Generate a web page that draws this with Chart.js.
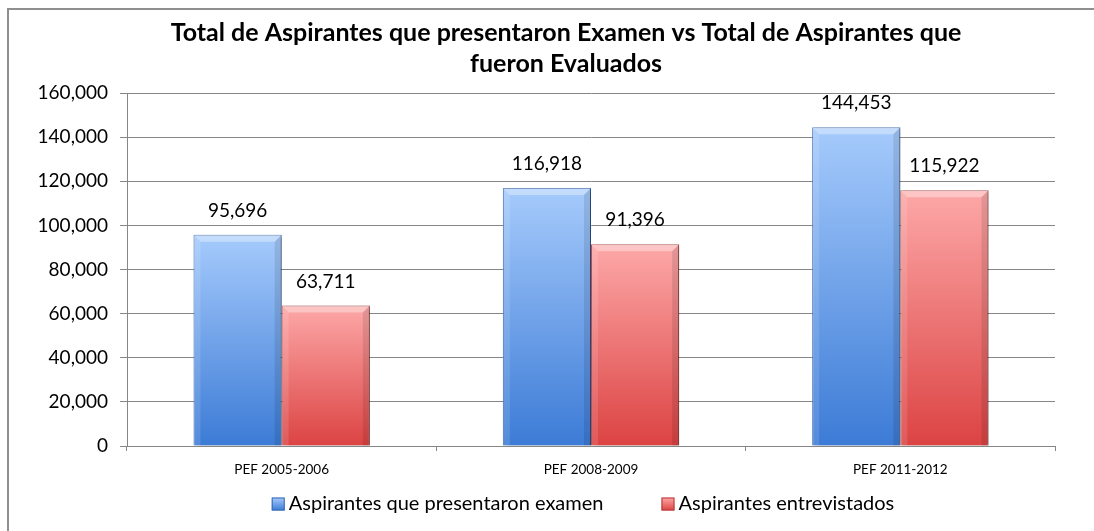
<!DOCTYPE html>
<html lang="es">
<head>
<meta charset="UTF-8">
<title>Total de Aspirantes</title>
<script src="https://cdn.jsdelivr.net/npm/chart.js"></script>
<style>
  body { margin: 0; background: #fff; }
  .wrap { width: 1094px; height: 531px; }
</style>
</head>
<body>
<div class="wrap">
  <canvas id="aspChart" width="1094" height="531"></canvas>
</div>
<script>
// datos
const categories = ['PEF 2005-2006', 'PEF 2008-2009', 'PEF 2011-2012'];
const presentaron = [95696, 116918, 144453];
const entrevistados = [63711, 91396, 115922];
const seriesNames = ['Aspirantes que presentaron examen', 'Aspirantes entrevistados'];
const yMax = 160000;
const yStep = 20000;

const FONT = 'Lato, "Open Sans", sans-serif';
const fmt = v => v.toLocaleString('en-US');

// top / bottom gradient colours per series
const shades = [
  { top: '#a6cbfc', bottom: '#3c7bd6', edge: '#3769b4' },
  { top: '#fda8a8', bottom: '#dc4343', edge: '#b53a3a' }
];

function barGradient(i) {
  return function (c) {
    const chart = c.chart;
    const y = chart.scales && chart.scales.y;
    if (!chart.chartArea || !y || c.raw == null) return shades[i].bottom;
    const top = y.getPixelForValue(c.raw);
    const bot = y.getPixelForValue(0);
    const g = chart.ctx.createLinearGradient(0, top, 0, bot);
    g.addColorStop(0, shades[i].top);
    g.addColorStop(1, shades[i].bottom);
    return g;
  };
}

const frame = {
  id: 'frame',
  beforeDraw(chart) {
    const ctx = chart.ctx;
    ctx.save();
    ctx.fillStyle = '#fff';
    ctx.fillRect(0, 0, chart.width, chart.height);
    ctx.strokeStyle = '#8f8f8f';
    ctx.lineWidth = 2;
    ctx.beginPath();
    ctx.moveTo(8, chart.height);
    ctx.lineTo(8, 9);
    ctx.lineTo(chart.width, 9);
    ctx.stroke();
    ctx.restore();
  }
};

const barLook = {
  id: 'barLook',
  beforeDatasetsDraw(chart) {
    const ctx = chart.ctx;
    ctx.save();
    ctx.shadowColor = 'rgba(0,0,0,0.35)';
    ctx.shadowBlur = 4;
    ctx.shadowOffsetX = 2;
    ctx.shadowOffsetY = 1;
  },
  afterDatasetsDraw(chart) {
    const ctx = chart.ctx;
    ctx.restore();
    const b = 7;
    ctx.save();
    chart.data.datasets.forEach((ds, di) => {
      chart.getDatasetMeta(di).data.forEach((el, i) => {
        const l = el.x - el.width / 2, r = el.x + el.width / 2;
        const t = el.y, bot = el.base;
        ctx.fillStyle = 'rgba(255,255,255,0.35)';
        ctx.beginPath();
        ctx.moveTo(l, t); ctx.lineTo(r, t); ctx.lineTo(r - b, t + b); ctx.lineTo(l + b, t + b);
        ctx.closePath(); ctx.fill();
        ctx.fillStyle = 'rgba(255,255,255,0.12)';
        ctx.beginPath();
        ctx.moveTo(l, t); ctx.lineTo(l + b, t + b); ctx.lineTo(l + b, bot); ctx.lineTo(l, bot);
        ctx.closePath(); ctx.fill();
        ctx.fillStyle = 'rgba(0,0,0,0.10)';
        ctx.beginPath();
        ctx.moveTo(r, t); ctx.lineTo(r - b, t + b); ctx.lineTo(r - b, bot); ctx.lineTo(r, bot);
        ctx.closePath(); ctx.fill();
        // value label
        ctx.fillStyle = '#000';
        ctx.font = '19px ' + FONT;
        ctx.textAlign = 'center';
        ctx.textBaseline = 'middle';
        ctx.fillText(fmt(ds.data[i]), el.x, t - 24);
      });
    });
    ctx.restore();
  }
};

const keyLegend = {
  id: 'keyLegend',
  afterDraw(chart) {
    const ctx = chart.ctx;
    ctx.save();
    ctx.font = '20px ' + FONT;
    ctx.textBaseline = 'middle';
    const box = 13, gapText = 4, gapItem = 58;
    const widths = chart.data.datasets.map(ds => box + gapText + ctx.measureText(ds.label).width);
    const total = widths.reduce((a, w) => a + w, 0) + gapItem * (widths.length - 1);
    let x = 583 - total / 2;
    const yc = 504;
    chart.data.datasets.forEach((ds, i) => {
      const g = ctx.createLinearGradient(0, yc - box / 2, 0, yc + box / 2);
      g.addColorStop(0, shades[i].top);
      g.addColorStop(1, shades[i].bottom);
      ctx.fillStyle = g;
      ctx.fillRect(x, yc - box / 2, box, box);
      ctx.strokeStyle = shades[i].edge;
      ctx.lineWidth = 1;
      ctx.strokeRect(x + 0.5, yc - box / 2 + 0.5, box - 1, box - 1);
      ctx.fillStyle = '#000';
      ctx.textAlign = 'left';
      ctx.fillText(ds.label, x + box + gapText, yc);
      x += widths[i] + gapItem;
    });
    ctx.restore();
  }
};

new Chart(document.getElementById('aspChart').getContext('2d'), {
  type: 'bar',
  data: {
    labels: categories,
    datasets: [
      { label: seriesNames[0], data: presentaron, backgroundColor: barGradient(0),
        borderColor: shades[0].edge, borderWidth: 1, categoryPercentage: 0.57, barPercentage: 1 },
      { label: seriesNames[1], data: entrevistados, backgroundColor: barGradient(1),
        borderColor: shades[1].edge, borderWidth: 1, categoryPercentage: 0.57, barPercentage: 1 }
    ]
  },
  options: {
    responsive: false,
    animation: false,
    layout: { padding: { left: 38, right: 0, top: 0, bottom: 45 } },
    plugins: {
      legend: { display: false },
      tooltip: { enabled: false },
      title: {
        display: true,
        text: ['Total de Aspirantes que presentaron Examen vs Total de Aspirantes que', 'fueron Evaluados'],
        color: '#000',
        font: { family: FONT, size: 25, weight: 'bold', lineHeight: 1.24 },
        padding: { top: 17.5, bottom: 13.5 }
      }
    },
    scales: {
      x: {
        grid: { display: true, drawOnChartArea: false, drawTicks: true, tickLength: 5, color: '#868686' },
        border: { display: true, color: '#868686' },
        ticks: { color: '#000', padding: 11, font: { family: FONT, size: 13.5 } },
        afterFit(a) { a.height = 40; }
      },
      y: {
        min: 0,
        max: yMax,
        grid: { color: '#868686', tickLength: 7 },
        border: { display: true, color: '#868686' },
        ticks: { stepSize: yStep, color: '#000', padding: 12, font: { family: FONT, size: 19 },
                 callback: v => fmt(v) },
        afterFit(a) { a.width = 89; }
      },
      yPad: {
        position: 'right',
        display: true,
        grid: { display: false },
        border: { display: false },
        ticks: { display: false },
        afterFit(a) { a.width = 39; }
      }
    }
  },
  plugins: [frame, barLook, keyLegend]
});
</script>
</body>
</html>
